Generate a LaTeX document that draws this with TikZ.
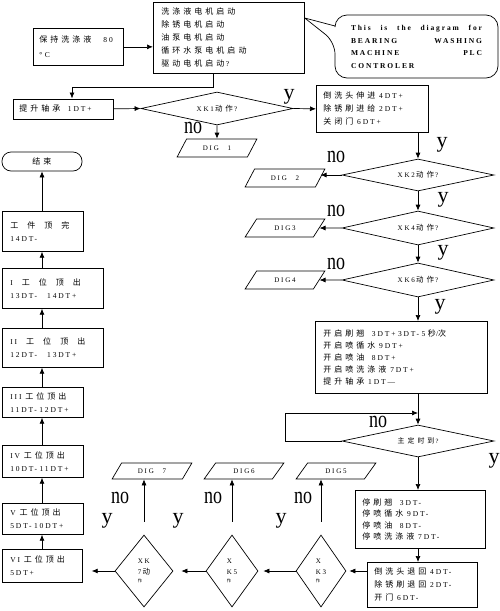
\documentclass[tikz,border=0pt]{standalone}
\usepackage{fontspec}
\setmainfont{Liberation Serif}[LetterSpace=25,WordSpace=2.5]
\newfontfamily\cjk{Noto Sans CJK SC}[Scale=1.07]
\newfontfamily\lblfont{Liberation Serif}
\usetikzlibrary{shapes.geometric,arrows.meta,calc}
\newlength{\zhgap}
\setlength{\zhgap}{3pt}
\ExplSyntaxOn
\NewDocumentCommand\zh{m}{{\cjk \tl_map_inline:nn {#1} {##1\hspace{\zhgap}}\unskip}}
\ExplSyntaxOff
\begin{document}
\begin{tikzpicture}[x=1pt,y=-1pt,line width=0.7pt,
  box/.style={draw, rectangle, anchor=north west, align=left, inner sep=0pt, font=\fontsize{7.5}{13}\selectfont},
  dia/.style={draw, diamond, aspect=4.5, inner sep=1pt, font=\fontsize{7}{9}\selectfont},
  tdia/.style={draw, diamond, aspect=0.7, inner sep=1pt, align=left, font=\fontsize{7}{11}\selectfont},
  dig/.style={draw, trapezium, trapezium left angle=55, trapezium right angle=125, trapezium stretches=true, minimum width=80pt, minimum height=18pt, inner sep=1pt, font=\fontsize{7}{7}\selectfont},
  term/.style={draw, rectangle, rounded corners=9pt, minimum width=80pt, minimum height=19pt, inner sep=0pt, font=\fontsize{7.5}{9}\selectfont},
  arr/.style={-{Latex[length=6pt,width=5pt]}},
  nolbl/.style={font=\lblfont\fontsize{24}{24}\selectfont, inner sep=0pt},
  ylbl/.style={font=\lblfont\fontsize{22}{22}\selectfont, inner sep=0pt}]
\fill[white] (0,0) rectangle (500,611);
\useasboundingbox (0,0) rectangle (500,611);

% top area
\node[box, minimum width=90pt, minimum height=37pt, text width=78pt, font=\fontsize{7.5}{15}\selectfont] (keep) at (33,28) {\zh{保持洗涤液}\hspace{12pt}80\\° C};
\node[box, minimum width=151pt, minimum height=71pt, text width=135pt] (motors) at (153,2)
  {\zh{洗涤液电机启动}\\\zh{除锈电机启动}\\\zh{油泵电机启动}\\\zh{循环水泵电机启动}\\\zh{驱动电机启动}\,?};
\node[align=left, text width=131pt, inner sep=0pt, font=\fontsize{7.5}{12.5}\selectfont\bfseries] (callout) at (416.5,47)
  {This\hfill is\hfill the\hfill diagram\hfill for\\BEARING\hfill WASHING\\MACHINE\hfill PLC\\CONTROLER};
\coordinate (tip) at ($(motors.north east)+(0,16)$);
\draw (tip) -- (335,26) [rounded corners=12pt] -- (335,15) -- (498,15) -- (498,78) -- (335,78) -- (335,42) [sharp corners] -- (tip);

\node[box, minimum width=100pt, minimum height=20pt, text width=88pt] (lift) at (13,98.5) {\zh{提升轴承}\quad 1DT+};
\node[dia, minimum width=152pt, minimum height=33pt] (d1) at (217,108.5) {XK1\,\zh{动作}\,?};
\node[box, minimum width=112pt, minimum height=47pt, text width=98pt] (ext) at (316,85)
  {\zh{倒洗头伸进}\enspace 4DT+\\\zh{除锈刷进给}\enspace 2DT+\\\zh{关闭门}\enspace 6DT+};
\node[dig] (dig1) at (217,148) {DIG 1};

% right column
\node[dia, minimum width=152pt, minimum height=32pt] (d2) at (418,175) {XK2\,\zh{动作}\,?};
\node[dig] (dig2) at (285,178) {DIG 2};
\node[dia, minimum width=152pt, minimum height=34pt] (d4) at (418,228) {XK4\,\zh{动作}\,?};
\node[dig] (dig3) at (285,228) {DIG3};
\node[dia, minimum width=152pt, minimum height=34pt] (d6) at (418,280) {XK6\,\zh{动作}\,?};
\node[dig] (dig4) at (285,280) {DIG4};
\node[box, minimum width=172pt, minimum height=72pt, text width=156pt, font=\fontsize{7.5}{12}\selectfont] (spray) at (315,321)
  {\zh{开启刷翘}\quad 3DT+ 3DT- 5 \zh{秒}/\zh{次}\\\zh{开启喷循水}\enspace 9DT+\\\zh{开启喷油}\quad 8DT+\\\zh{开启喷洗涤液}\enspace 7DT+\\\zh{提升轴承}\enspace 1DT—};
\node[dia, minimum width=152pt, minimum height=32pt, font=\fontsize{6.5}{8}\selectfont] (timer) at (418,441) {\zh{主定时到}\,?};
\node[box, minimum width=130pt, minimum height=58pt, text width=116pt, font=\fontsize{7.5}{11.5}\selectfont] (stop) at (355,490)
  {\zh{停刷翘}\quad 3DT-\\\zh{停喷循水}\enspace 9DT-\\\zh{停喷油}\quad 8DT-\\\zh{停喷洗涤液}\enspace 7DT-};
\node[box, minimum width=110pt, minimum height=45pt, text width=96pt] (ret) at (367,562)
  {\zh{倒洗头退回}\enspace 4DT-\\\zh{除锈刷退回}\enspace 2DT-\\\zh{开门}\enspace 6DT-};

% bottom diamonds
\node[tdia, minimum width=50pt, minimum height=72pt] (d3) at (321,571) {X\\K3\\[-3pt]{\fontsize{4}{4}\selectfont\zh{作}}};
\node[tdia, minimum width=52pt, minimum height=72pt] (d5) at (232,571) {X\\K5\\[-3pt]{\fontsize{4}{4}\selectfont\zh{作}}};
\node[tdia, minimum width=58pt, minimum height=72pt] (d7) at (144,571) {XK\\7\,\zh{动}\\[-3pt]{\fontsize{4}{4}\selectfont\zh{作}}};
\node[dig, minimum height=16pt] (dig5) at (336,471) {DIG5};
\node[dig, minimum height=16pt] (dig6) at (244,471) {DIG6};
\node[dig, minimum height=16pt] (dig7) at (152,471) {DIG 7};

% left column
\node[term] (end) at (42,161.5) {\zh{结束}};
\node[box, minimum width=81pt, minimum height=40pt, text width=65pt] (b14) at (2,211) {\zh{工}\hspace{9pt}\zh{件}\hspace{9pt}\zh{顶}\hspace{9pt}\zh{完}\\14DT-};
\node[box, minimum width=101pt, minimum height=40pt, text width=85pt] (b13) at (2,268) {I\hspace{9pt}\zh{工}\hspace{9pt}\zh{位}\hspace{9pt}\zh{顶}\hspace{9pt}\zh{出}\\13DT-\hspace{10pt}14DT+};
\node[box, minimum width=101pt, minimum height=39pt, text width=85pt] (b12) at (2,328) {II\hspace{9pt}\zh{工}\hspace{9pt}\zh{位}\hspace{9pt}\zh{顶}\hspace{9pt}\zh{出}\\12DT-\hspace{10pt}13DT+};
\node[box, minimum width=81pt, minimum height=30pt, text width=65pt] (b11) at (2,387) {III\enspace\zh{工位顶出}\\11DT- 12DT+};
\node[box, minimum width=81pt, minimum height=32pt, text width=65pt] (b10) at (2,445) {IV\enspace\zh{工位顶出}\\10DT- 11DT+};
\node[box, minimum width=81pt, minimum height=31pt, text width=65pt] (b5) at (2,503) {V\enspace\zh{工位顶出}\\5DT- 10DT+};
\node[box, minimum width=80pt, minimum height=33pt, text width=64pt] (b6) at (2,549) {VI\enspace\zh{工位顶出}\\5DT+};
\coordinate (colx) at (42,0);

% connectors top
\draw[arr] (keep.east) -- (keep.east -| motors.west);
\coordinate (m1) at ($(motors.south west)+(60,0)$);
\coordinate (turn) at (72,87);
\draw[arr] (m1) |- (turn) -- (turn |- lift.north);
\draw[arr] (lift.east) -- (d1.west);
\draw[arr] (d1.east) -- (ext.west);
\draw[arr] (d1.south) -- (dig1.north);

% right column connectors
\draw[arr] (d2.north |- ext.south) -- (d2.north);
\draw[arr] (d2.west) -- (d2.west -| dig2.east);
\draw[arr] (d2.south) -- (d4.north);
\draw[arr] (d4.west) -- (dig3.east);
\draw[arr] (d4.south) -- (d6.north);
\draw[arr] (d6.west) -- (dig4.east);
\draw[arr] (d6.south) -- (d6.south |- spray.north);
\draw[arr] (timer.north |- spray.south) -- (timer.north);
\coordinate (lp) at (285,413);
\draw[arr] (timer.west) -| (lp) -- (lp -| timer.north);
\draw[arr] (timer.south) -- (timer.south |- stop.north);
\draw[arr] (timer.south |- stop.south) -- (timer.south |- ret.north);

% bottom connectors
\draw[arr, shorten >=3pt] (ret.west |- d3.east) -- (d3.east);
\draw[arr, shorten >=5pt] (d3.west) -- (d5.east);
\draw[arr, shorten >=8pt] (d5.west) -- (d7.east);
\draw[arr, shorten >=9pt] (d7.west) -- (d7.west -| b6.east);
\draw[arr] ([yshift=13pt]d7.north) -- (d7.north |- dig7.south);
\draw[arr] ([yshift=13pt]d5.north) -- (d5.north |- dig6.south);
\draw[arr] ([yshift=13pt]d3.north) -- (d3.north |- dig5.south);

% left column connectors
\draw[arr] (b6.north -| colx) -- (b5.south -| colx);
\draw[arr] (b5.north -| colx) -- (b10.south -| colx);
\draw[arr] (b10.north -| colx) -- (b11.south -| colx);
\draw[arr] (b11.north -| colx) -- (b12.south -| colx);
\draw[arr] (b12.north -| colx) -- (b13.south -| colx);
\draw[arr] (b13.north -| colx) -- (b14.south -| colx);
\draw[arr] (b14.north -| colx) -- (end.south -| colx);

% labels
\node[ylbl] (y1) at (289,97) {y};
\node[nolbl] (n1) at (193,128) {\scalebox{0.75}[1]{no}};
\node[ylbl] (y2) at (442,145) {y};
\node[nolbl] (n2) at (336,157) {\scalebox{0.75}[1]{no}};
\node[ylbl] (y3) at (443,200) {y};
\node[nolbl] (n3) at (336,211) {\scalebox{0.75}[1]{no}};
\node[ylbl] (y4) at (443,253) {y};
\node[nolbl] (n4) at (336,264) {\scalebox{0.75}[1]{no}};
\node[ylbl] (y5) at (440,307) {y};
\node[nolbl] (n5) at (378,422) {\scalebox{0.75}[1]{no}};
\node[ylbl] (y6) at (494,461) {y};
\node[nolbl] (n7) at (120,498) {\scalebox{0.75}[1]{no}};
\node[nolbl] (n6) at (213,498) {\scalebox{0.75}[1]{no}};
\node[nolbl] (n8) at (303,498) {\scalebox{0.75}[1]{no}};
\node[ylbl] (y7) at (107,521) {y};
\node[ylbl] (y8) at (178,521) {y};
\node[ylbl] (y9) at (281,521) {y};
\end{tikzpicture}
\end{document}
